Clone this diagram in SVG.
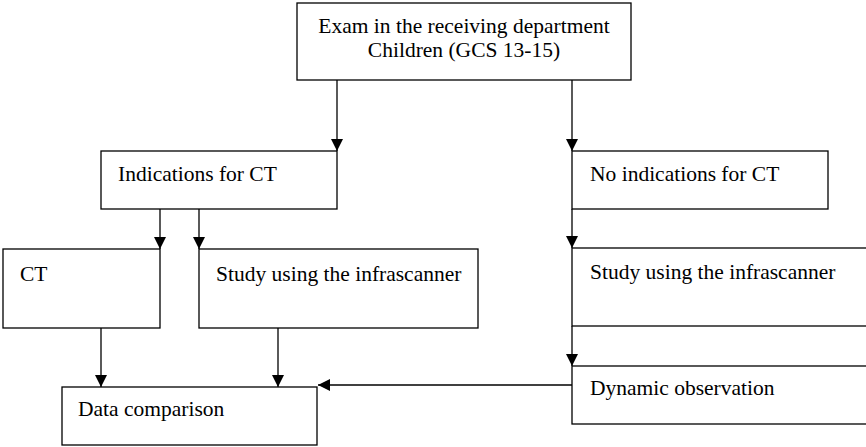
<svg xmlns="http://www.w3.org/2000/svg" width="866" height="447" viewBox="0 0 866 447">
<defs>
<style>
.box{fill:#fff;stroke:#000;stroke-width:1.3}
.t{font-family:"Liberation Serif","Times New Roman",serif;font-size:21.5px;fill:#000}
.c{stroke:#000;stroke-width:1.3;fill:none}
</style>
<marker id="ah" markerUnits="userSpaceOnUse" markerWidth="12" markerHeight="12" refX="12" refY="6" orient="auto" viewBox="0 0 12 12">
<path d="M0,0 L12,6 L0,12 z" fill="#000"/>
</marker>
</defs>
<g id="exam">
<rect class="box" x="297" y="3" width="334" height="77"/>
<text class="t" x="464" y="33" text-anchor="middle">Exam in the receiving department</text>
<text class="t" x="464" y="57" text-anchor="middle">Children (GCS 13-15)</text>
</g>
<g id="indications">
<rect class="box" x="101" y="151" width="236" height="58"/>
<text class="t" x="118" y="181">Indications for CT</text>
</g>
<g id="noindications">
<rect class="box" x="572" y="151" width="256" height="58"/>
<text class="t" x="590" y="181">No indications for CT</text>
</g>
<g id="ct">
<rect class="box" x="3" y="249" width="157" height="79"/>
<text class="t" x="20" y="281">CT</text>
</g>
<g id="study1">
<rect class="box" x="199" y="249" width="279" height="79"/>
<text class="t" x="216" y="281">Study using the infrascanner</text>
</g>
<g id="study2">
<rect class="box" x="572" y="248" width="300" height="78"/>
<text class="t" x="590" y="279">Study using the infrascanner</text>
</g>
<g id="dynamic">
<rect class="box" x="572" y="366" width="300" height="58"/>
<text class="t" x="590" y="395">Dynamic observation</text>
</g>
<g id="comparison">
<rect class="box" x="62" y="387" width="255" height="58"/>
<text class="t" x="78" y="416">Data comparison</text>
</g>
<g id="connectors">
<line class="c" x1="337" y1="80" x2="337" y2="151" marker-end="url(#ah)"/>
<line class="c" x1="572" y1="80" x2="572" y2="151" marker-end="url(#ah)"/>
<line class="c" x1="160" y1="209" x2="160" y2="249" marker-end="url(#ah)"/>
<line class="c" x1="199" y1="209" x2="199" y2="249" marker-end="url(#ah)"/>
<line class="c" x1="572" y1="209" x2="572" y2="248" marker-end="url(#ah)"/>
<line class="c" x1="572" y1="326" x2="572" y2="366" marker-end="url(#ah)"/>
<line class="c" x1="101" y1="328" x2="101" y2="387" marker-end="url(#ah)"/>
<line class="c" x1="278" y1="328" x2="278" y2="387" marker-end="url(#ah)"/>
<line class="c" x1="572" y1="385" x2="318" y2="385" marker-end="url(#ah)"/>
</g>
</svg>
